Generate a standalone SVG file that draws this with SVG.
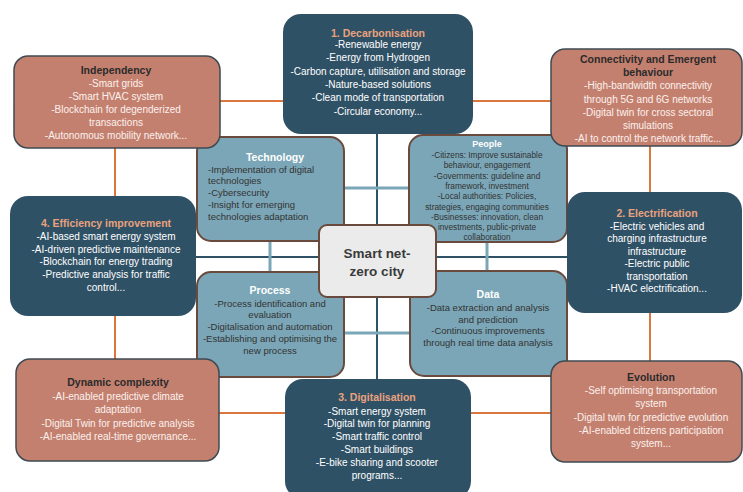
<svg xmlns="http://www.w3.org/2000/svg" width="743" height="492" viewBox="0 0 743 492">
  <style>
    text { font-family: "Liberation Sans", Arial, sans-serif; text-anchor: middle; }
    .dark { fill: #2f5166; }
    .salmon { fill: #c4806f; stroke: #3e4a52; stroke-width: 1.5; }
    .light { fill: #7ba6b7; stroke: #6a4a3c; stroke-width: 2; }
    .hub { fill: #ebebeb; stroke: #6a4a3c; stroke-width: 2; }
    .t-dark { font-size: 10.5px; font-weight: bold; fill: #e9a27d; }
    .b-dark { font-size: 10px; fill: #ffffff; }
    .t-salmon { font-size: 10.5px; font-weight: bold; fill: #2b2b2b; }
    .b-salmon { font-size: 10px; fill: #fbf1ed; }
    .t-light { font-size: 10.5px; font-weight: bold; fill: #ffffff; }
    .b-light { font-size: 9.5px; fill: #333333; }
    .b-small { font-size: 8.3px; fill: #333333; }
    .hub-text { font-size: 13.5px; font-weight: bold; fill: #3a3a3a; }
    .ln-orange { stroke: #d9773f; stroke-width: 2; fill: none; }
    .ln-dark { stroke: #2f5166; stroke-width: 2; fill: none; }
    .ln-blue { stroke: #7ba6b7; stroke-width: 3; fill: none; }
  </style>

  <rect width="743" height="492" fill="#ffffff"/>

  <!-- connectors -->
  <g id="connectors">
    <rect class="ln-orange" x="115" y="101" width="535" height="312"/>
    <line class="ln-dark" x1="377" y1="133" x2="377" y2="380"/>
    <line class="ln-dark" x1="195" y1="257" x2="568" y2="257"/>
    <line class="ln-blue" x1="343" y1="188" x2="410" y2="188"/>
    <line class="ln-blue" x1="270" y1="240" x2="270" y2="273"/>
    <line class="ln-blue" x1="487" y1="241" x2="487" y2="272"/>
    <line class="ln-blue" x1="343" y1="333" x2="411" y2="333"/>
  </g>

  <!-- inner ring -->
  <g id="technology">
    <rect class="light" x="197" y="137" width="147" height="104" rx="14"/>
    <text class="t-light" x="275" y="161">Technology</text>
    <text class="b-light" x="208" y="172.5" style="text-anchor:start">-Implementation of digital</text>
    <text class="b-light" x="208" y="184.3" style="text-anchor:start">technologies</text>
    <text class="b-light" x="208" y="196.1" style="text-anchor:start">-Cybersecurity</text>
    <text class="b-light" x="208" y="207.9" style="text-anchor:start">-Insight for emerging</text>
    <text class="b-light" x="208" y="219.7" style="text-anchor:start">technologies adaptation</text>
  </g>

  <g id="people">
    <rect class="light" x="409" y="135" width="158" height="107" rx="14"/>
    <text class="t-light" x="487" y="147" style="font-size:9px">People</text>
    <text class="b-small" x="487" y="158">-Citizens: Improve sustainable</text>
    <text class="b-small" x="487" y="168.3">behaviour, engagement</text>
    <text class="b-small" x="487" y="178.6">-Governments: guideline and</text>
    <text class="b-small" x="487" y="188.9">framework, investment</text>
    <text class="b-small" x="487" y="199.2">-Local authorities: Policies,</text>
    <text class="b-small" x="487" y="209.5">strategies, engaging communities</text>
    <text class="b-small" x="487" y="219.8">-Businesses: innovation, clean</text>
    <text class="b-small" x="487" y="230.1">investments, public-private</text>
    <text class="b-small" x="487" y="240.4">collaboration</text>
  </g>

  <g id="process">
    <rect class="light" x="197" y="272" width="147" height="105" rx="14"/>
    <text class="t-light" x="270" y="294">Process</text>
    <text class="b-light" x="270" y="306.5">-Process identification and</text>
    <text class="b-light" x="270" y="318.3">evaluation</text>
    <text class="b-light" x="270" y="330.1">-Digitalisation and automation</text>
    <text class="b-light" x="270" y="341.9">-Establishing and optimising the</text>
    <text class="b-light" x="270" y="353.7">new process</text>
  </g>

  <g id="data">
    <rect class="light" x="410" y="271" width="157" height="105" rx="14"/>
    <text class="t-light" x="488" y="298">Data</text>
    <text class="b-light" x="488" y="311">-Data extraction and analysis</text>
    <text class="b-light" x="488" y="322.5">and prediction</text>
    <text class="b-light" x="488" y="334">-Continuous improvements</text>
    <text class="b-light" x="488" y="345.5">through real time data analysis</text>
  </g>

  <g id="hub">
    <rect class="hub" x="319" y="225" width="117" height="72" rx="8"/>
    <text class="hub-text" x="377" y="258">Smart net-</text>
    <text class="hub-text" x="377" y="276">zero city</text>
  </g>

  <!-- pillars -->
  <g id="decarbonisation">
    <rect class="dark" x="283" y="14" width="190" height="120" rx="18"/>
    <text class="t-dark" x="378" y="36.5">1. Decarbonisation</text>
    <text class="b-dark" x="378" y="48">-Renewable energy</text>
    <text class="b-dark" x="378" y="61.3">-Energy from Hydrogen</text>
    <text class="b-dark" x="378" y="74.6">-Carbon capture, utilisation and storage</text>
    <text class="b-dark" x="378" y="87.9">-Nature-based solutions</text>
    <text class="b-dark" x="378" y="101.2">-Clean mode of transportation</text>
    <text class="b-dark" x="378" y="114.5">-Circular economy...</text>
  </g>

  <g id="efficiency">
    <rect class="dark" x="10" y="196" width="186" height="120" rx="18"/>
    <text class="t-dark" x="106" y="227">4. Efficiency improvement</text>
    <text class="b-dark" x="106" y="239.8">-AI-based smart energy system</text>
    <text class="b-dark" x="106" y="252.6">-AI-driven predictive maintenance</text>
    <text class="b-dark" x="106" y="265.4">-Blockchain for energy trading</text>
    <text class="b-dark" x="106" y="278.2">-Predictive analysis for traffic</text>
    <text class="b-dark" x="106" y="291">control...</text>
  </g>

  <g id="electrification">
    <rect class="dark" x="567" y="192" width="175" height="121" rx="18"/>
    <text class="t-dark" x="657" y="217">2. Electrification</text>
    <text class="b-dark" x="657" y="229.5">-Electric vehicles and</text>
    <text class="b-dark" x="657" y="242">charging infrastructure</text>
    <text class="b-dark" x="657" y="254.5">infrastructure</text>
    <text class="b-dark" x="657" y="267">-Electric public</text>
    <text class="b-dark" x="657" y="279.5">transportation</text>
    <text class="b-dark" x="657" y="292">-HVAC electrification...</text>
  </g>

  <g id="digitalisation">
    <rect class="dark" x="285" y="379" width="186" height="120" rx="18"/>
    <text class="t-dark" x="377" y="401">3. Digitalisation</text>
    <text class="b-dark" x="377" y="414.5">-Smart energy system</text>
    <text class="b-dark" x="377" y="427.3">-Digital twin for planning</text>
    <text class="b-dark" x="377" y="440.1">-Smart traffic control</text>
    <text class="b-dark" x="377" y="452.9">-Smart buildings</text>
    <text class="b-dark" x="377" y="465.7">-E-bike sharing and scooter</text>
    <text class="b-dark" x="377" y="478.5">programs...</text>
  </g>

  <!-- system properties -->
  <g id="independency">
    <rect class="salmon" x="14" y="56" width="206" height="92" rx="14"/>
    <text class="t-salmon" x="116" y="74">Independency</text>
    <text class="b-salmon" x="116" y="87">-Smart grids</text>
    <text class="b-salmon" x="116" y="100">-Smart HVAC system</text>
    <text class="b-salmon" x="116" y="113">-Blockchain for degenderized</text>
    <text class="b-salmon" x="116" y="126">transactions</text>
    <text class="b-salmon" x="116" y="139">-Autonomous mobility network...</text>
  </g>

  <g id="connectivity">
    <rect class="salmon" x="551" y="49" width="191" height="97" rx="14"/>
    <text class="t-salmon" x="648" y="63">Connectivity and Emergent</text>
    <text class="t-salmon" x="648" y="76.2">behaviour</text>
    <text class="b-salmon" x="648" y="89.4">-High-bandwidth connectivity</text>
    <text class="b-salmon" x="648" y="102.6">through 5G and 6G networks</text>
    <text class="b-salmon" x="648" y="115.8">-Digital twin for cross sectoral</text>
    <text class="b-salmon" x="648" y="129">simulations</text>
    <text class="b-salmon" x="648" y="142.2">-AI to control the network traffic...</text>
  </g>

  <g id="dynamic-complexity">
    <rect class="salmon" x="16" y="359" width="203" height="102" rx="14"/>
    <text class="t-salmon" x="118" y="386">Dynamic complexity</text>
    <text class="b-salmon" x="118" y="399.5">-AI-enabled predictive climate</text>
    <text class="b-salmon" x="118" y="413">adaptation</text>
    <text class="b-salmon" x="118" y="426.5">-Digital Twin for predictive analysis</text>
    <text class="b-salmon" x="118" y="440">-AI-enabled real-time governance...</text>
  </g>

  <g id="evolution">
    <rect class="salmon" x="551" y="361" width="191" height="101" rx="14"/>
    <text class="t-salmon" x="651" y="381">Evolution</text>
    <text class="b-salmon" x="651" y="394.2">-Self optimising transportation</text>
    <text class="b-salmon" x="651" y="407.4">system</text>
    <text class="b-salmon" x="651" y="420.6">-Digital twin for predictive evolution</text>
    <text class="b-salmon" x="651" y="433.8">-AI-enabled citizens participation</text>
    <text class="b-salmon" x="651" y="447">system...</text>
  </g>
</svg>
